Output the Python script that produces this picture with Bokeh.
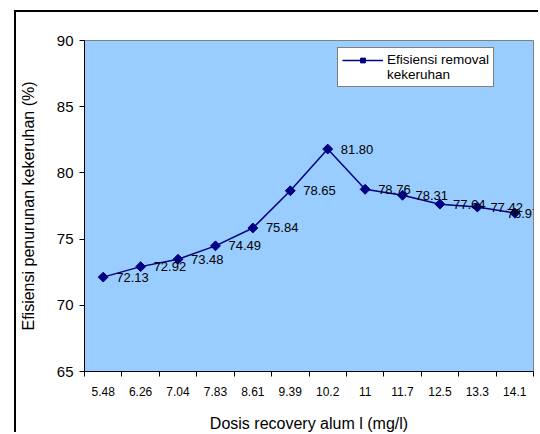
import numpy as np
from bokeh.plotting import figure
from bokeh.models import Range1d, FixedTicker, Legend, LegendItem, ColumnDataSource
from bokeh.embed import file_html
from bokeh.resources import INLINE

# ---- data ----
doses = ["5.48", "6.26", "7.04", "7.83", "8.61", "9.39", "10.2", "11", "11.7", "12.5", "13.3", "14.1"]
efficiency = [72.13, 72.92, 73.48, 74.49, 75.84, 78.65, 81.80, 78.76, 78.31, 77.64, 77.42, 76.97]
y_ticks = [65, 70, 75, 80, 85, 90]
series_name_lines = ["Efisiensi removal", "kekeruhan"]
x_title = "Dosis recovery alum l (mg/l)"
y_title = "Efisiensi penurunan kekeruhan (%)"

FONT = "Liberation Sans"
n = len(doses)
xs = [i + 0.5 for i in range(n)]
labels = ["%.2f" % v for v in efficiency]

src = ColumnDataSource(dict(x=xs, y=efficiency, label=labels))
src_main = ColumnDataSource(dict(x=xs[:-1], y=efficiency[:-1], label=labels[:-1]))
src_last = ColumnDataSource(dict(x=xs[-1:], y=efficiency[-1:], label=labels[-1:]))

p = figure(width=524, height=422, output_backend="svg", toolbar_location=None,
           x_range=Range1d(0, n), y_range=Range1d(65, 90),
           min_border_left=67, min_border_top=28, min_border_bottom=62, min_border_right=7)
# outer chart-area frame: only its left and top edges are inside the picture
p.styles = {"margin-left": "14px", "margin-top": "10px",
            "border-left": "2px solid black", "border-top": "2px solid black"}

p.background_fill_color = "#99CCFF"
p.border_fill_color = "white"
p.outline_line_color = "#808080"
p.outline_line_width = 1
p.xgrid.visible = False
p.ygrid.visible = False

# x axis: labels at category centres, ticks at category boundaries
p.xaxis.ticker = FixedTicker(ticks=xs, minor_ticks=list(range(n + 1)))
p.xaxis.major_label_overrides = {x: d for x, d in zip(xs, doses)}
p.xaxis.major_tick_out = 0
p.xaxis.major_tick_in = 0
p.xaxis.minor_tick_out = 5
p.xaxis.minor_tick_in = 0
p.xaxis.minor_tick_line_color = "black"
p.xaxis.major_label_standoff = 10
p.xaxis.major_label_text_font = FONT
p.xaxis.major_label_text_font_size = "12px"
p.xaxis.major_label_text_color = "black"
p.xaxis.axis_label = x_title
p.xaxis.axis_label_text_font = FONT
p.xaxis.axis_label_text_font_size = "16px"
p.xaxis.axis_label_text_font_style = "normal"
p.xaxis.axis_label_text_color = "black"
p.xaxis.axis_label_standoff = 16
p.xaxis.axis_line_color = "black"

# y axis
p.yaxis.ticker = FixedTicker(ticks=y_ticks)
p.yaxis.major_tick_out = 5
p.yaxis.major_tick_in = 0
p.yaxis.minor_tick_line_color = None
p.yaxis.major_label_standoff = 6
p.yaxis.major_label_text_font = FONT
p.yaxis.major_label_text_font_size = "15px"
p.yaxis.major_label_text_color = "black"
p.yaxis.axis_label = y_title
p.yaxis.axis_label_text_font = FONT
p.yaxis.axis_label_text_font_size = "16px"
p.yaxis.axis_label_text_font_style = "normal"
p.yaxis.axis_label_text_color = "black"
p.yaxis.axis_label_standoff = 17
p.yaxis.axis_line_color = "black"

NAVY = "#000080"
ln = p.line("x", "y", source=src, line_color=NAVY, line_width=1.5)
mk = p.scatter("x", "y", source=src, marker="square", angle=np.pi / 4, size=7,
               fill_color=NAVY, line_color=NAVY)
# blank glyph for the legend's second text line
blank = p.line(x=[], y=[], line_alpha=0)

for s, off in ((src_main, 13), (src_last, -8)):
    p.text("x", "y", text="label", source=s, x_offset=off, text_baseline="middle",
           text_align="left", text_font_size="13px", text_color="black",
           text_font={"value": FONT})

legend = Legend(items=[LegendItem(label=series_name_lines[0], renderers=[ln, mk]),
                       LegendItem(label=series_name_lines[1], renderers=[blank])],
                location=(253, 284), orientation="vertical")
legend.border_line_color = "black"
legend.border_line_width = 1
legend.background_fill_color = "white"
legend.background_fill_alpha = 1
legend.label_text_font = FONT
legend.label_text_font_size = "13.5px"
legend.label_text_color = "black"
legend.glyph_width = 41
legend.glyph_height = 12
legend.label_standoff = 4
legend.label_height = 12
legend.padding = 4
legend.spacing = 0
legend.margin = 0
p.add_layout(legend, "center")

open("out.html", "w").write(file_html(p, INLINE))
